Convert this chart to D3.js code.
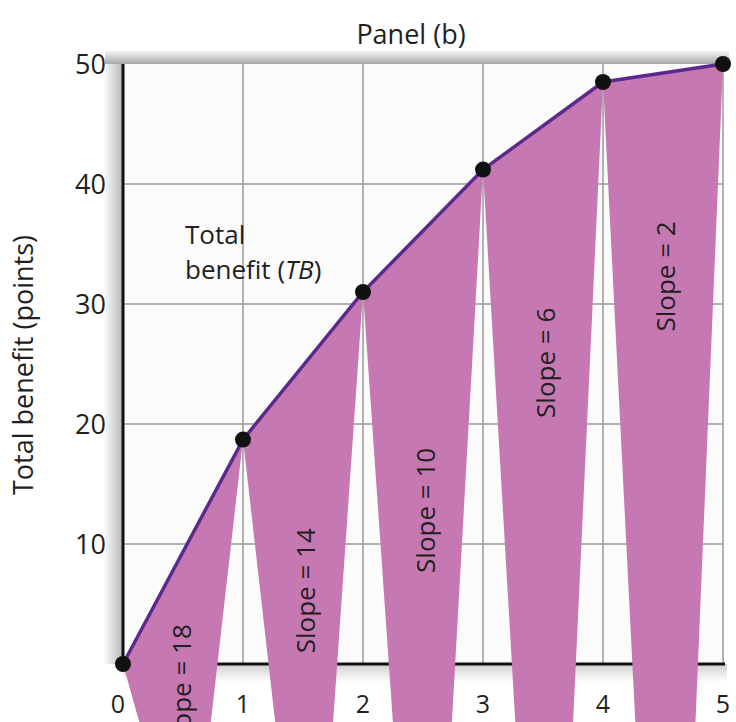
<!DOCTYPE html>
<html>
<head>
<meta charset="utf-8">
<script src="https://cdn.jsdelivr.net/npm/d3@7"></script>
<style>
  html, body { margin: 0; padding: 0; background: #ffffff; }
  svg { display: block; }
  text { font-family: "Open Sans", "Noto Sans", sans-serif; fill: #231f20; }
</style>
</head>
<body>
<svg id="chart" width="736" height="722"></svg>
<script>
// ---- data ----
const quantities = [0, 1, 2, 3, 4, 5];
const totalBenefit = [0, 18.7, 31, 41.2, 48.5, 50];
const slopeLabels = ["Slope = 18", "Slope = 14", "Slope = 10", "Slope = 6", "Slope = 2"];
const xTicks = [0, 1, 2, 3, 4, 5];
const yTicks = [10, 20, 30, 40, 50];
// wedge bottom ends (data units) for each segment's shaded band
const bandBottomLeft = [0.14, 1.27, 2.25, 3.27, 4.27];
const bandBottomRight = [0.73, 1.75, 2.74, 3.75, 4.77];
const bandBottomY = -5;
// slope label centres (data units)
const slopeLabelX = [0.49, 1.52, 2.52, 3.52, 4.52];
const slopeLabelY = [-1.9, 6.1, 12.8, 25.1, 32.3];

const svg = d3.select("#chart");
const x = d3.scaleLinear().domain([0, 5]).range([123, 723]);
const y = d3.scaleLinear().domain([0, 50]).range([664, 64]);

const defs = svg.append("defs");
const gl = defs.append("linearGradient").attr("id", "shLeft").attr("x1", 0).attr("x2", 1).attr("y1", 0).attr("y2", 0);
gl.append("stop").attr("offset", "0%").attr("stop-color", "#ffffff");
gl.append("stop").attr("offset", "100%").attr("stop-color", "#b8b8b8");
const gt = defs.append("linearGradient").attr("id", "shTop").attr("x1", 0).attr("x2", 0).attr("y1", 0).attr("y2", 1);
gt.append("stop").attr("offset", "0%").attr("stop-color", "#f4f4f4");
gt.append("stop").attr("offset", "100%").attr("stop-color", "#a8a8a8");
const gb = defs.append("linearGradient").attr("id", "shBot").attr("x1", 0).attr("x2", 0).attr("y1", 0).attr("y2", 1);
gb.append("stop").attr("offset", "0%").attr("stop-color", "#cfcfcf");
gb.append("stop").attr("offset", "100%").attr("stop-color", "#ffffff");

// shadows
svg.append("rect").attr("x", x(0) - 20).attr("y", y(50) - 10).attr("width", 20).attr("height", y(0) - y(50) + 10)
  .attr("fill", "url(#shLeft)");
svg.append("rect").attr("x", x(0) - 18).attr("y", y(50) - 13).attr("width", x(5) - x(0) + 24).attr("height", 13)
  .attr("fill", "url(#shTop)");
svg.append("rect").attr("x", x(0)).attr("y", y(0)).attr("width", x(5) - x(0) + 4).attr("height", 18)
  .attr("fill", "url(#shBot)");

// plot background
svg.append("rect").attr("x", x(0)).attr("y", y(50)).attr("width", x(5) - x(0)).attr("height", y(0) - y(50))
  .attr("fill", "#fbfbfb");

// grid
svg.append("g").selectAll("line").data(yTicks.filter(d => d < 50)).join("line")
  .attr("x1", x(0)).attr("x2", x(5)).attr("y1", d => y(d)).attr("y2", d => y(d))
  .attr("stroke", "#9a9a9a").attr("stroke-width", 1.5);
svg.append("g").selectAll("line").data(xTicks.filter(d => d > 0)).join("line")
  .attr("x1", d => x(d)).attr("x2", d => x(d)).attr("y1", y(50)).attr("y2", y(0))
  .attr("stroke", "#9a9a9a").attr("stroke-width", 1.5);

// axes lines
svg.append("line").attr("x1", x(0)).attr("x2", x(0)).attr("y1", y(50)).attr("y2", y(0))
  .attr("stroke", "#111").attr("stroke-width", 3);
svg.append("line").attr("x1", x(0)).attr("x2", x(5) + 2).attr("y1", y(0)).attr("y2", y(0))
  .attr("stroke", "#111").attr("stroke-width", 3);

// shaded bands
const bands = d3.range(5).map(i => [
  [x(quantities[i]), y(totalBenefit[i])],
  [x(quantities[i + 1]), y(totalBenefit[i + 1])],
  [x(bandBottomRight[i]), y(bandBottomY)],
  [x(bandBottomLeft[i]), y(bandBottomY)]
]);
svg.append("g").selectAll("path").data(bands).join("path")
  .attr("d", d => "M" + d.map(p => p.join(",")).join("L") + "Z")
  .attr("fill", "#c678b3");

// TB line
const line = d3.line().x((d, i) => x(quantities[i])).y(d => y(d));
svg.append("path").datum(totalBenefit).attr("d", line)
  .attr("fill", "none").attr("stroke", "#5b2a8c").attr("stroke-width", 3.5);

// dots
svg.append("g").selectAll("circle").data(totalBenefit).join("circle")
  .attr("cx", (d, i) => x(quantities[i])).attr("cy", d => y(d)).attr("r", 8)
  .attr("fill", "#111");

// tick labels
svg.append("g").selectAll("text").data(yTicks).join("text")
  .attr("x", x(0) - 17).attr("y", d => y(d)).attr("dy", "0.36em")
  .attr("text-anchor", "end").attr("font-size", 27).text(d => d);
svg.append("g").selectAll("text").data(xTicks).join("text")
  .attr("x", d => x(d) - (d === 0 ? 5 : 0)).attr("y", 713)
  .attr("text-anchor", "middle").attr("font-size", 25).text(d => d);

// slope labels
svg.append("g").selectAll("text").data(slopeLabels).join("text")
  .attr("transform", (d, i) => `translate(${x(slopeLabelX[i])},${y(slopeLabelY[i])}) rotate(-90)`)
  .attr("text-anchor", "middle").attr("dy", "0.35em").attr("font-size", 26).text(d => d);

// title
svg.append("text").attr("x", 411).attr("y", 44).attr("text-anchor", "middle")
  .attr("font-size", 27).text("Panel (b)");

// y axis title
svg.append("text").attr("transform", `translate(24,365) rotate(-90)`)
  .attr("text-anchor", "middle").attr("dy", "0.35em").attr("font-size", 27).text("Total benefit (points)");

// curve label
const lab = svg.append("text").attr("x", 185).attr("font-size", 26);
lab.append("tspan").attr("x", 185).attr("y", 244).text("Total");
const l2 = lab.append("tspan").attr("x", 185).attr("y", 279);
l2.append("tspan").text("benefit (");
l2.append("tspan").attr("font-style", "italic").text("TB");
l2.append("tspan").text(")");
</script>
</body>
</html>
